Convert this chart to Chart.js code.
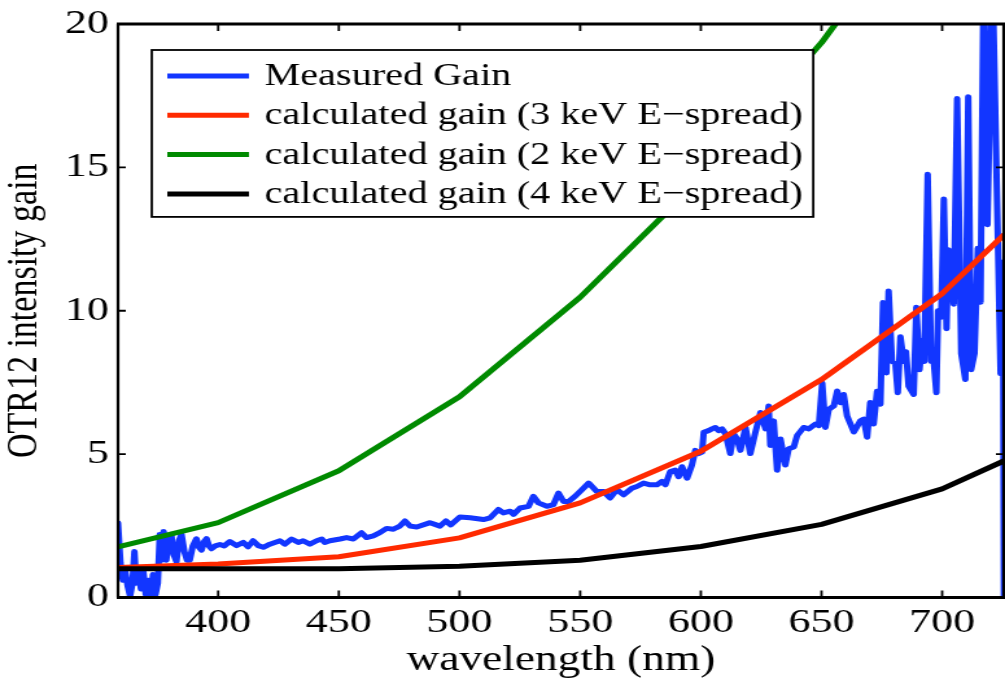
<!DOCTYPE html>
<html>
<head>
<meta charset="utf-8">
<script src="https://cdn.jsdelivr.net/npm/chart.js@4.4.1/dist/chart.umd.min.js"></script>
<style>
  html, body { margin: 0; padding: 0; background: #fff; }
  #gainChart { display: block; }
</style>
</head>
<body>
<!-- the original figure is stretched sideways, so the canvas is drawn narrower and scaled up -->
<canvas id="gainChart" width="775" height="683" style="width:1005px;height:683px"></canvas>
<script>
// ---------------------------------------------------------
// DATA
// ---------------------------------------------------------
const seriesLabels = [
    "Measured Gain",
    "calculated gain (3 keV E\u2212spread)",
    "calculated gain (2 keV E\u2212spread)",
    "calculated gain (4 keV E\u2212spread)"
];

const measuredNm = [
    358.5, 359.5, 360.5, 361.5, 362.5, 363.5, 364.5, 365.3, 366.0, 367.0,
    368.0, 369.0, 370.0, 371.0, 372.0, 373.0, 374.0, 375.0, 375.8, 376.6,
    377.4, 378.5, 379.6, 380.6, 381.6, 382.7, 383.8, 384.8, 386.0, 387.1,
    388.2, 389.5, 391.0, 392.1, 393.1, 394.2, 395.2, 396.2, 397.2, 398.8,
    400.7, 402.5, 404.8, 407.6, 410.4, 412.4, 414.5, 416.6, 418.7, 421.4,
    425.6, 427.6, 430.4, 433.2, 435.2, 438.0, 440.8, 442.9, 444.2, 446.3,
    450.5, 453.2, 456.0, 459.4, 461.5, 464.3, 467.0, 469.8, 472.6, 474.0,
    475.3, 477.4, 479.5, 482.3, 487.8, 491.9, 494.4, 496.4, 500.2, 504.4,
    509.9, 512.7, 516.1, 518.2, 521.0, 522.4, 525.1, 528.6, 530.6, 532.7,
    536.2, 538.9, 541.0, 543.1, 545.2, 547.9, 550.7, 553.5, 556.9, 559.7,
    562.4, 565.2, 568.0, 571.4, 573.5, 576.3, 579.0, 581.8, 583.9, 585.3,
    587.3, 589.4, 590.8, 592.2, 594.3, 596.3, 597.7, 599.1, 600.5, 601.2,
    603.2, 604.6, 606.0, 607.4, 608.8, 610.2, 612.2, 613.6, 615.0, 616.4,
    618.5, 620.5, 622.6, 624.7, 626.8, 628.1, 628.8, 630.2, 631.6, 633.0,
    635.0, 636.4, 638.5, 639.9, 642.6, 644.7, 647.5, 648.9, 650.3, 651.6,
    653.0, 655.1, 656.5, 657.9, 659.2, 660.6, 663.4, 666.1, 667.5, 668.9,
    670.2, 671.6, 673.0, 674.4, 675.5, 676.9, 677.8, 679.2, 680.6, 681.6,
    682.7, 684.1, 685.0, 686.1, 688.2, 689.3, 690.6, 691.7, 692.6, 694.0,
    695.4, 696.2, 697.6, 698.3, 699.6, 700.7, 701.8, 702.5, 703.4, 704.8,
    706.2, 707.9, 709.6, 710.8, 712.0, 713.4, 714.8, 715.9, 717.2, 718.8,
    720.8, 724.2, 725.2, 725.9
];

const measuredGain = [
    2.6, 1.2, 0.6, 0.9, 0.4, 0.05, 0.5, 1.6, 0.5, 0.9,
    0.3, 0.9, 0.1, 0.6, 0.0, 0.8, 0.1, 0.5, 2.2, 1.3,
    2.3, 1.3, 2.0, 2.2, 1.5, 1.25, 2.0, 2.2, 1.6, 1.3,
    1.3, 1.8, 2.05, 1.75, 1.65, 1.95, 2.05, 1.8, 1.7, 1.8,
    1.85, 1.8, 1.95, 1.81, 1.92, 1.77, 1.98, 1.81, 1.75, 1.86,
    1.98, 1.86, 2.04, 1.92, 1.98, 1.86, 1.98, 2.04, 1.92, 1.98,
    2.04, 2.09, 2.04, 2.26, 2.09, 2.15, 2.26, 2.41, 2.38, 2.44,
    2.49, 2.67, 2.49, 2.46, 2.61, 2.49, 2.67, 2.53, 2.81, 2.78,
    2.72, 2.78, 3.07, 2.95, 3.01, 2.90, 3.12, 3.18, 3.53, 3.30,
    3.18, 3.24, 3.64, 3.35, 3.35, 3.53, 3.76, 3.99, 3.70, 3.70,
    3.47, 3.76, 3.58, 3.81, 3.87, 3.99, 3.93, 3.93, 4.05, 3.93,
    4.39, 4.44, 4.21, 4.56, 4.16, 4.62, 5.13, 5.02, 5.07, 5.76,
    5.82, 5.88, 5.93, 5.82, 5.88, 5.71, 5.02, 5.71, 5.53, 5.13,
    5.93, 5.02, 5.76, 6.45, 5.88, 6.68, 5.30, 6.16, 4.44, 5.53,
    4.62, 5.19, 5.25, 5.65, 5.93, 5.88, 6.05, 5.99, 7.48, 5.93,
    6.56, 6.68, 7.20, 6.79, 7.08, 6.33, 5.77, 6.16, 6.22, 5.59,
    6.80, 6.05, 7.19, 6.74, 10.29, 7.83, 10.69, 8.23, 8.17, 7.14,
    9.09, 8.23, 8.57, 7.37, 7.08, 10.12, 7.94, 8.97, 8.23, 14.76,
    8.23, 8.57, 7.14, 10.0, 9.78, 13.9, 9.37, 12.13, 12.07, 10.23,
    17.4, 8.51, 7.6, 17.46, 7.94, 8.51, 12.18, 10.3, 22, 13,
    22, 7.8, 11.7, -10
];

const calcNm   = [358.5, 400, 450, 500, 550, 600, 650, 700, 725.5];
const gain3keV = [1.05, 1.17, 1.42, 2.08, 3.3, 5.1, 7.6, 10.6, 12.64];
const gain2keV = [1.77, 2.61, 4.42, 7.0, 10.47, 14.6, 19.35, 25, 28];
const gain4keV = [1.0, 1.0, 1.0, 1.09, 1.3, 1.78, 2.55, 3.79, 4.76];

const xTicks = [400, 450, 500, 550, 600, 650, 700];
const yTicks = [0, 5, 10, 15, 20];

// ---------------------------------------------------------
// HELPERS
// ---------------------------------------------------------
const SERIF = "'Liberation Serif', 'Times New Roman', serif";

function toPoints(xs, ys) {
    return xs.map((x, i) => ({ x: x, y: ys[i] }));
}

function lineSet(label, xs, ys, color, order) {
    return {
        label: label,
        data: toPoints(xs, ys),
        borderColor: color,
        backgroundColor: color,
        borderWidth: 5,
        pointRadius: 0,
        tension: 0,
        borderJoinStyle: "round",
        borderCapStyle: "round",
        clip: 0,
        order: order
    };
}

// frame with inward ticks on all four sides (MATLAB style box)
const frameTicks = {
    id: "frameTicks",
    afterDatasetsDraw(chart) {
        const { ctx, chartArea: a, scales } = chart;
        ctx.save();
        ctx.strokeStyle = "#000";
        ctx.lineWidth = 1.8;
        ctx.beginPath();
        scales.x.ticks.forEach(t => {
            const px = scales.x.getPixelForValue(t.value);
            ctx.moveTo(px, a.bottom); ctx.lineTo(px, a.bottom - 7);
            ctx.moveTo(px, a.top); ctx.lineTo(px, a.top + 7);
        });
        scales.y.ticks.forEach(t => {
            const py = scales.y.getPixelForValue(t.value);
            ctx.moveTo(a.left, py); ctx.lineTo(a.left + 6, py);
            ctx.moveTo(a.right, py); ctx.lineTo(a.right - 6, py);
        });
        ctx.stroke();

        // horizontal edges
        ctx.lineWidth = 2.8;
        ctx.beginPath();
        ctx.moveTo(a.left - 1, a.top); ctx.lineTo(a.right + 1, a.top);
        ctx.moveTo(a.left - 1, a.bottom); ctx.lineTo(a.right + 1, a.bottom);
        ctx.stroke();
        // vertical edges (they get stretched sideways)
        ctx.lineWidth = 2.2;
        ctx.beginPath();
        ctx.moveTo(a.left, a.top); ctx.lineTo(a.left, a.bottom);
        ctx.moveTo(a.right, a.top); ctx.lineTo(a.right, a.bottom);
        ctx.stroke();
        ctx.restore();
    }
};

// boxed legend in the upper left of the plot
const boxLegend = {
    id: "boxLegend",
    afterDraw(chart) {
        const { ctx, chartArea: a } = chart;
        const sets = chart.data.datasets;
        const boxX = a.left + 26;
        const boxY = a.top + 26;
        const rowGap = 39.3;
        const lineLen = 63;
        const textX = boxX + 12 + lineLen + 12;

        ctx.save();
        ctx.font = "31px " + SERIF;
        let maxW = 0;
        sets.forEach(ds => { maxW = Math.max(maxW, ctx.measureText(ds.label).width); });
        const boxW = textX - boxX + maxW + 8;
        const boxH = 26 + rowGap * (sets.length - 1) + 23;

        ctx.fillStyle = "#fff";
        ctx.fillRect(boxX, boxY, boxW, boxH);
        ctx.strokeStyle = "#000";
        ctx.lineWidth = 1.8;
        ctx.strokeRect(boxX, boxY, boxW, boxH);

        sets.forEach((ds, i) => {
            const cy = boxY + 26 + i * rowGap;
            ctx.strokeStyle = ds.borderColor;
            ctx.lineWidth = 5;
            ctx.beginPath();
            ctx.moveTo(boxX + 12, cy);
            ctx.lineTo(boxX + 12 + lineLen, cy);
            ctx.stroke();
            ctx.fillStyle = "#000";
            ctx.textAlign = "left";
            ctx.textBaseline = "middle";
            ctx.fillText(ds.label, textX, cy + 1);
        });
        ctx.restore();
    }
};

// ---------------------------------------------------------
// CHART
// ---------------------------------------------------------
const ctx = document.getElementById("gainChart").getContext("2d");
new Chart(ctx, {
    type: "line",
    data: {
        datasets: [
            lineSet(seriesLabels[0], measuredNm, measuredGain, "#1236ff", 4),
            lineSet(seriesLabels[1], calcNm, gain3keV, "#ff2a00", 3),
            lineSet(seriesLabels[2], calcNm, gain2keV, "#008a00", 2),
            lineSet(seriesLabels[3], calcNm, gain4keV, "#000000", 1)
        ]
    },
    options: {
        responsive: false,
        animation: false,
        events: [],
        layout: { padding: { top: 14, right: 1, left: 0, bottom: 0 } },
        plugins: {
            legend: { display: false },
            tooltip: { enabled: false }
        },
        scales: {
            x: {
                type: "linear",
                min: 358.5,
                max: 725.5,
                afterBuildTicks: s => { s.ticks = xTicks.map(v => ({ value: v })); },
                afterFit: s => { s.height = 85.5; },
                grid: { display: false, drawTicks: false },
                border: { display: false },
                ticks: {
                    color: "#000",
                    padding: 9,
                    maxRotation: 0,
                    font: { family: SERIF, size: 34, lineHeight: 1 }
                },
                title: {
                    display: true,
                    text: "wavelength (nm)",
                    color: "#000",
                    padding: { top: 0, bottom: 5 },
                    font: { family: SERIF, size: 35, lineHeight: 1 }
                }
            },
            y: {
                type: "linear",
                min: 0,
                max: 20,
                afterBuildTicks: s => { s.ticks = yTicks.map(v => ({ value: v })); },
                afterFit: s => { s.width = 91; },
                grid: { display: false, drawTicks: false },
                border: { display: false },
                ticks: {
                    color: "#000",
                    padding: 7,
                    font: { family: SERIF, size: 34, lineHeight: 1 }
                },
                title: {
                    display: true,
                    text: "OTR12 intensity gain",
                    color: "#000",
                    padding: { top: 2, bottom: 0 },
                    font: { family: SERIF, size: 34, lineHeight: 1 }
                }
            }
        }
    },
    plugins: [frameTicks, boxLegend]
});
</script>
</body>
</html>
